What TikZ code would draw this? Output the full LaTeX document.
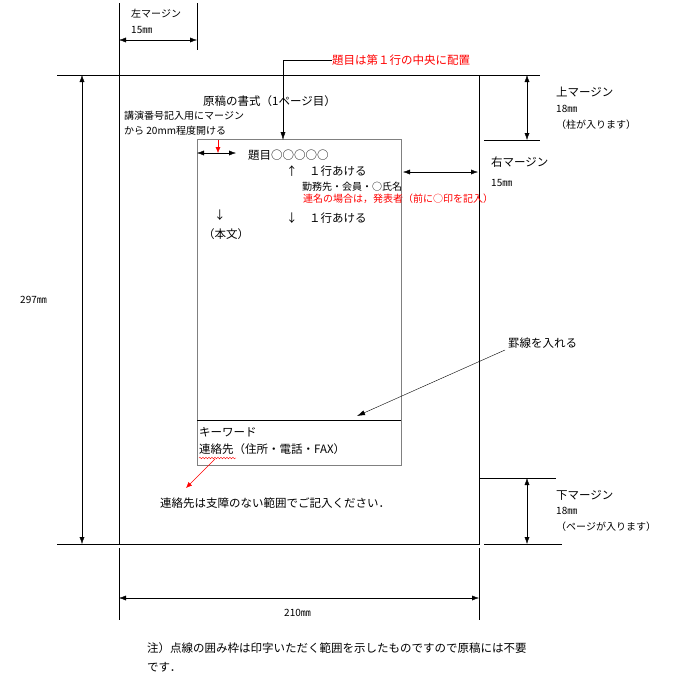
\documentclass[tikz,border=0pt]{standalone}
\usepackage{fontspec}
\setmainfont{Noto Sans CJK JP}
\usetikzlibrary{arrows.meta,decorations.pathmorphing}
\begin{document}
\begin{tikzpicture}[x=1pt,y=-1pt,
  txt/.style={inner sep=0pt,anchor=west,font=\fontsize{11.5}{12}\selectfont},
  sm/.style={inner sep=0pt,anchor=west,font=\fontsize{10}{10}\selectfont},
  dim/.style={{Latex[length=7pt,width=5pt]}-{Latex[length=7pt,width=5pt]},thin},
  ln/.style={thin},
  red arr/.style={-{Latex[length=6pt,width=5pt]},red}]
\useasboundingbox (0,0) rectangle (672,688);
% page
\draw[thin] (119,75) rectangle (479,544);
\draw[gray] (197,139) rectangle (401,465);
\draw[thin] (197,420) -- (401,420);
% left margin
\coordinate (lm1) at (119,40); \coordinate (lm2) at (197,40);
\draw[ln] (119,3) -- (119,75); \draw[ln] (197,3) -- (197,50);
\draw[dim] (lm1) -- (lm2);
\node[sm] at (131,14) {左マージン};
\node[sm] at (131,30) {15㎜};
% top margin
\draw[ln] (479,75) -- (540,75); \draw[ln] (484,140) -- (540,140);
\coordinate (tm1) at (527,75); \coordinate (tm2) at (527,140);
\draw[dim] (tm1) -- (tm2);
\node[txt] at (556,92) {上マージン};
\node[sm] at (556,109) {18㎜};
\node[sm] at (556,125) {（柱が入ります）};
% right margin
\coordinate (rm1) at (403,172); \coordinate (rm2) at (478,172);
\draw[dim] (rm1) -- (rm2);
\node[txt] at (491,162) {右マージン};
\node[sm] at (491,183) {15㎜};
% bottom margin
\draw[ln] (480,478) -- (556,478); \draw[ln] (484,544) -- (562,544);
\coordinate (bm1) at (527,478); \coordinate (bm2) at (527,544);
\draw[dim] (bm1) -- (bm2);
\node[txt] at (556,495) {下マージン};
\node[sm] at (556,511) {18㎜};
\node[sm] at (556,527) {（ページが入ります）};
% 297
\draw[ln] (57,75) -- (119,75); \draw[ln] (57,544) -- (119,544);
\coordinate (h1) at (82,75); \coordinate (h2) at (82,544);
\draw[dim] (h1) -- (h2);
\node[sm] at (20,300) {297㎜};
% 210
\draw[ln] (119,548) -- (119,620); \draw[ln] (479,548) -- (479,620);
\coordinate (w1) at (119,598); \coordinate (w2) at (479,598);
\draw[dim] (w1) -- (w2);
\node[sm] at (284,613) {210㎜};
% title note
\node[txt,red] (tn) at (332,60) {題目は第１行の中央に配置};
\coordinate (tc) at (283,140);
\draw[-{Latex[length=8pt,width=5pt]}] (tn.west) -| (tc);
\node[txt] at (203,101) {原稿の書式（1ページ目）};
\node[sm] at (124,116) {講演番号記入用にマージン};
\node[sm] at (124,131) {から 20mm程度開ける};
\coordinate (ra1) at (218,140); \coordinate (ra2) at (218,153);
\draw[red arr] (ra1) -- (ra2);
\coordinate (d1) at (197,153); \coordinate (d2) at (236,153);
\draw[dim] (d1) -- (d2);
\node[txt] at (248,155) {題目○○○○○};
\node[txt] at (286,171) {↑　１行あける};
\node[sm] at (302,187) {勤務先・会員・○氏名};
\node[sm,red] at (303,199) {連名の場合は，発表者（前に○印を記入）};
\node[txt] at (286,218) {↓　１行あける};
\node[txt] at (214,215) {↓};
\node[txt] at (203,234) {（本文）};
% rule
\node[txt] (kl) at (508,343) {罫線を入れる};
\coordinate (kt) at (357,416);
\draw[-{Latex[length=8pt,width=5pt]}] (505,350) -- (kt);
\node[txt] (kw) at (199,432) {キーワード};
\node[txt] (rk) at (199,449) {連絡先（住所・電話・FAX）};
\draw[red,decorate,decoration={snake,amplitude=0.8pt,segment length=3pt}] (199,458) -- (236,458);
\node[txt] (nt) at (160,503) {連絡先は支障のない範囲でご記入ください．};
\coordinate (ws) at (215,459); \coordinate (we) at (186,488);
\draw[red arr] (ws) -- (we);
\node[txt] at (147,648) {注）点線の囲み枠は印字いただく範囲を示したものですので原稿には不要};
\node[txt] at (147,667) {です．};
\end{tikzpicture}
\end{document}
